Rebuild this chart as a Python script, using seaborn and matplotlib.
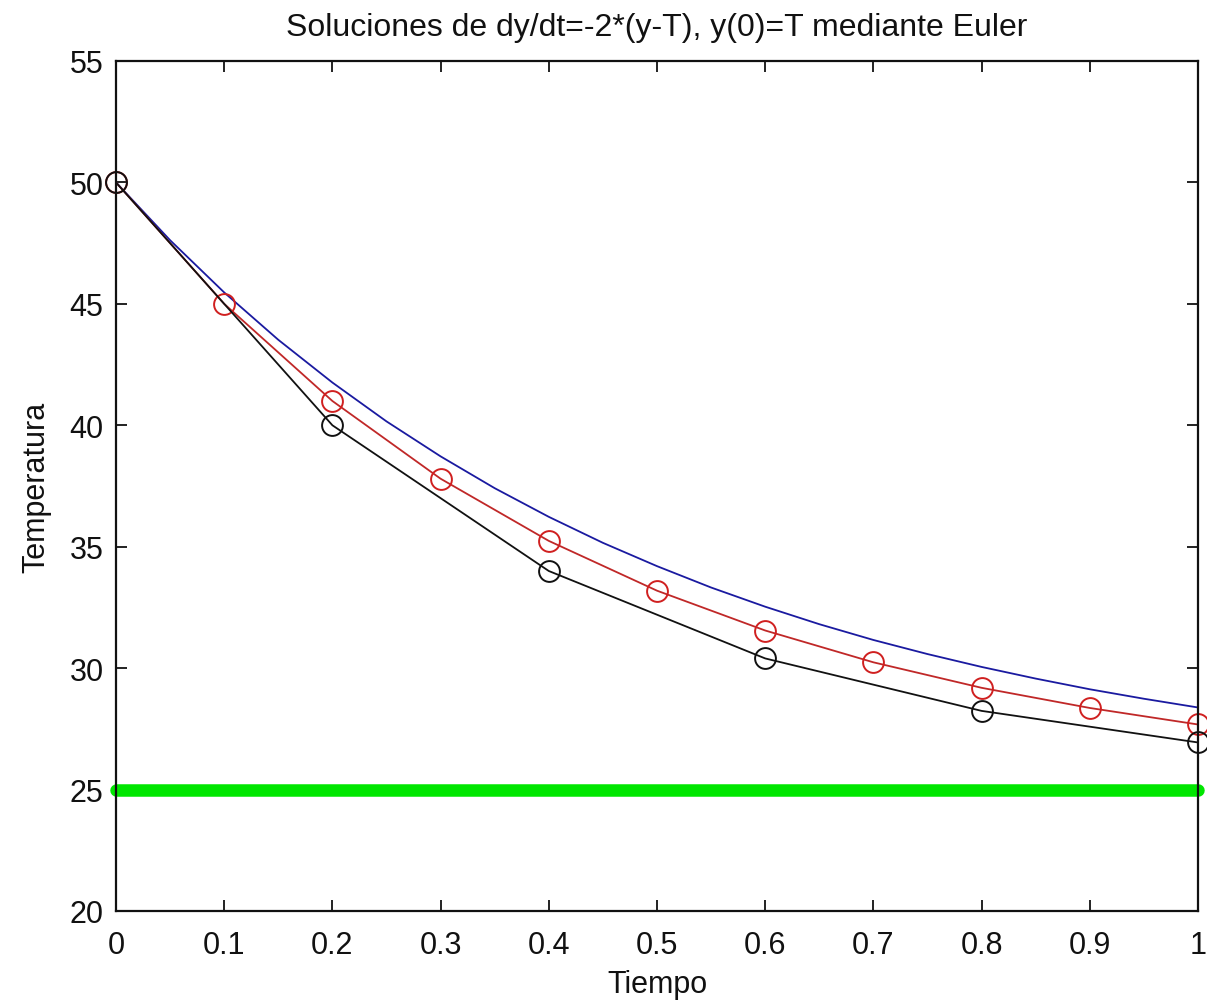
import numpy as np
import pandas as pd
import matplotlib
matplotlib.use("Agg")
import matplotlib.pyplot as plt
import seaborn as sns

# datos
t_exacta = [0, 0.05, 0.1, 0.15, 0.2, 0.25, 0.3, 0.35, 0.4, 0.45, 0.5,
            0.55, 0.6, 0.65, 0.7, 0.75, 0.8, 0.85, 0.9, 0.95, 1.0]
y_exacta = [50, 47.62, 45.47, 43.52, 41.76, 40.16, 38.72, 37.41, 36.23, 35.16, 34.20,
            33.32, 32.53, 31.81, 31.16, 30.58, 30.05, 29.57, 29.13, 28.74, 28.38]

t_h01 = [0, 0.1, 0.2, 0.3, 0.4, 0.5, 0.6, 0.7, 0.8, 0.9, 1.0]
y_h01 = [50, 45, 41, 37.8, 35.24, 33.19, 31.55, 30.24, 29.19, 28.36, 27.68]

t_h02 = [0, 0.2, 0.4, 0.6, 0.8, 1.0]
y_h02 = [50, 40, 34, 30.4, 28.24, 26.94]

t_amb = [0, 1]
y_amb = [25, 25]

xticks = [0, 0.1, 0.2, 0.3, 0.4, 0.5, 0.6, 0.7, 0.8, 0.9, 1]
xtick_labels = ["0", "0.1", "0.2", "0.3", "0.4", "0.5", "0.6", "0.7", "0.8", "0.9", "1"]
yticks = [20, 25, 30, 35, 40, 45, 50, 55]

sns.set_style("white")
plt.rcParams['font.family'] = ['Liberation Sans', 'DejaVu Sans']

fig = plt.figure(figsize=(12.07, 10.03), dpi=100)
ax = fig.add_axes([116 / 1207, 1 - 912 / 1003, (1198 - 116) / 1207, (912 - 62) / 1003])

# temperatura ambiente
sns.lineplot(x=t_amb, y=y_amb, color="#00e600", linewidth=9, ax=ax, clip_on=False)
# solucion exacta
sns.lineplot(x=t_exacta, y=y_exacta, color="#1a1aa0", linewidth=1.3, ax=ax)
# Euler h=0.1
sns.lineplot(x=t_h01, y=y_h01, color="#c02828", linewidth=1.3, marker="o",
             markersize=15, markerfacecolor="none", markeredgecolor="#d02020",
             markeredgewidth=1.4, ax=ax, clip_on=False)
# Euler h=0.2
sns.lineplot(x=t_h02, y=y_h02, color="#111111", linewidth=1.3, marker="o",
             markersize=15, markerfacecolor="none", markeredgecolor="#111111",
             markeredgewidth=1.4, ax=ax, clip_on=False)

ax.set_xlim(0, 1)
ax.set_ylim(20, 55)
ax.set_xticks(xticks)
ax.set_xticklabels(xtick_labels)
ax.set_yticks(yticks)
ax.tick_params(direction="in", length=8, width=1.3, labelsize=22, colors="#111111",
               top=True, right=True, bottom=True, left=True, pad=9)
ax.tick_params(axis="x", pad=14)
for s in ax.spines.values():
    s.set_color("#111111")
    s.set_linewidth(1.6)

ax.set_title("Soluciones de dy/dt=-2*(y-T), y(0)=T mediante Euler", fontsize=23, pad=19,
             color="#111111")
ax.set_xlabel("Tiempo", fontsize=22, labelpad=6, color="#111111")
ax.set_ylabel("Temperatura", fontsize=22, labelpad=13, color="#111111")

fig.savefig("out.png", dpi=100)
